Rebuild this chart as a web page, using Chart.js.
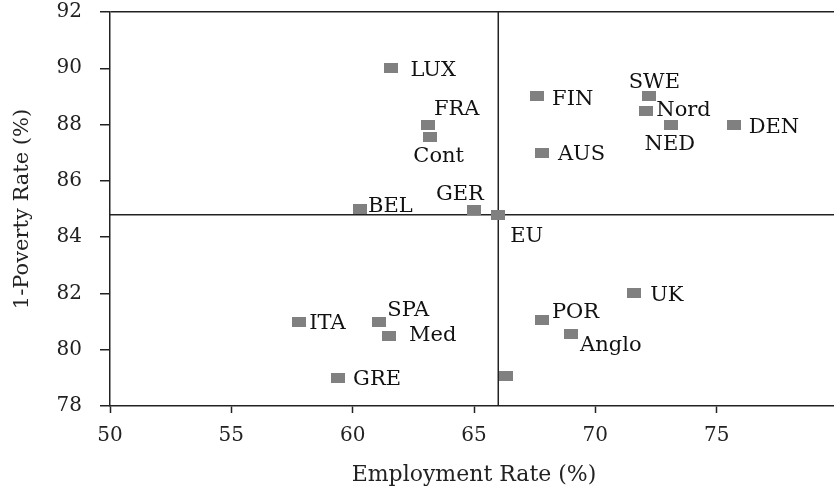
<!DOCTYPE html>
<html>
<head>
<meta charset="utf-8">
<script src="https://cdn.jsdelivr.net/npm/chart.js@4/dist/chart.umd.min.js"></script>
<style>
  html, body { margin: 0; padding: 0; overflow: hidden; background: #fff; }
</style>
</head>
<body>
<canvas id="chart" width="838" height="488"></canvas>
<script>
// data
const countries = ['LUX', 'BEL', 'FRA', 'Cont', 'GER', 'EU', 'FIN', 'AUS', 'SWE', 'Nord',
  'NED', 'DEN', 'ITA', 'SPA', 'Med', 'GRE', '', 'POR', 'Anglo', 'UK'];
const employment = [61.6, 60.3, 63.1, 63.2, 65.0, 66.0, 67.6, 67.8, 72.2, 72.1,
  73.1, 75.7, 57.8, 61.1, 61.5, 59.4, 66.3, 67.8, 69.0, 71.6];
const oneMinusPoverty = [90.0, 85.0, 88.0, 87.55, 84.95, 84.8, 89.0, 87.0, 89.0, 88.5,
  88.0, 88.0, 81.0, 81.0, 80.5, 79.0, 79.05, 81.05, 80.55, 82.0];
const euEmployment = 66.0;
const euPoverty = 84.8;
const xTicks = [50, 55, 60, 65, 70, 75];
const yTicks = [78, 80, 82, 84, 86, 88, 90, 92];

// where each name sits relative to its marker (left edge, cap centre)
const labelOffsets = [[19, 0], [8, -5], [6, -17], [-17, 17], [-38, -18], [12, 20], [15, 1], [16, 0],
  [-20, -16], [10, -2], [-26, 18], [15, 1], [10, 0], [8, -13], [20, -2], [15, 0], [0, 0],
  [10, -10], [9, 9], [16, 0]];

const ink = '#222';
Chart.defaults.font.family = "'DejaVu Serif', serif";
Chart.defaults.color = ink;

// grey rectangular marker
const marker = document.createElement('canvas');
marker.width = 14;
marker.height = 10;
const mctx = marker.getContext('2d');
mctx.fillStyle = '#808080';
mctx.fillRect(0, 0, 14, 10);

const pointLabels = {
  id: 'pointLabels',
  afterDatasetsDraw(chart) {
    const meta = chart.getDatasetMeta(0);
    const ctx = chart.ctx;
    ctx.save();
    ctx.font = "21px 'DejaVu Serif'";
    ctx.fillStyle = '#111';
    ctx.textAlign = 'left';
    ctx.textBaseline = 'alphabetic';
    meta.data.forEach((pt, i) => {
      if (!countries[i]) return;
      const [dx, dy] = labelOffsets[i];
      ctx.fillText(countries[i], pt.x + dx, pt.y + dy + 7.5);
    });
    ctx.restore();
  }
};

new Chart(document.getElementById('chart'), {
  type: 'scatter',
  data: {
    datasets: [
      {
        data: employment.map((x, i) => ({ x: x, y: oneMinusPoverty[i] })),
        pointStyle: marker,
        pointRadius: 7
      },
      {
        data: [{ x: euEmployment, y: 78 }, { x: euEmployment, y: 92 }],
        showLine: true,
        borderColor: ink,
        borderWidth: 1.5,
        pointRadius: 0
      },
      {
        data: [{ x: 50, y: euPoverty }, { x: 80, y: euPoverty }],
        showLine: true,
        borderColor: ink,
        borderWidth: 1.5,
        pointRadius: 0
      }
    ]
  },
  options: {
    responsive: false,
    devicePixelRatio: 1,
    animation: false,
    layout: { autoPadding: false, padding: { top: 12, right: 0, bottom: 0, left: 0 } },
    plugins: { legend: { display: false }, tooltip: { enabled: false } },
    scales: {
      x: {
        min: 50,
        max: 80,
        afterBuildTicks: (scale) => { scale.ticks = xTicks.map(v => ({ value: v })); },
        afterFit: (scale) => { scale.height = 82; scale.paddingRight = 0; },
        border: { color: ink, width: 1.5 },
        grid: { color: 'transparent', tickColor: ink, tickLength: 7, tickWidth: 1.5 },
        ticks: { font: { size: 20 }, padding: 11, maxRotation: 0 },
        title: { display: true, text: 'Employment Rate (%)', font: { size: 22 }, padding: { top: 0, bottom: 0 } }
      },
      y: {
        min: 78,
        max: 92,
        afterBuildTicks: (scale) => { scale.ticks = yTicks.map(v => ({ value: v })); },
        afterFit: (scale) => { scale.width = 110; scale.paddingTop = 0; scale.paddingBottom = 0; },
        border: { color: ink, width: 1.5 },
        grid: {
          color: (c) => (c.tick && c.tick.value === 92 ? ink : 'transparent'),
          lineWidth: 1.5,
          tickColor: ink,
          tickLength: 10,
          tickWidth: 1.5
        },
        ticks: { font: { size: 20 }, padding: 18 },
        title: { display: true, text: '1-Poverty Rate (%)', font: { size: 21 }, padding: { top: 10, bottom: 0 } }
      }
    }
  },
  plugins: [pointLabels]
});
</script>
</body>
</html>
